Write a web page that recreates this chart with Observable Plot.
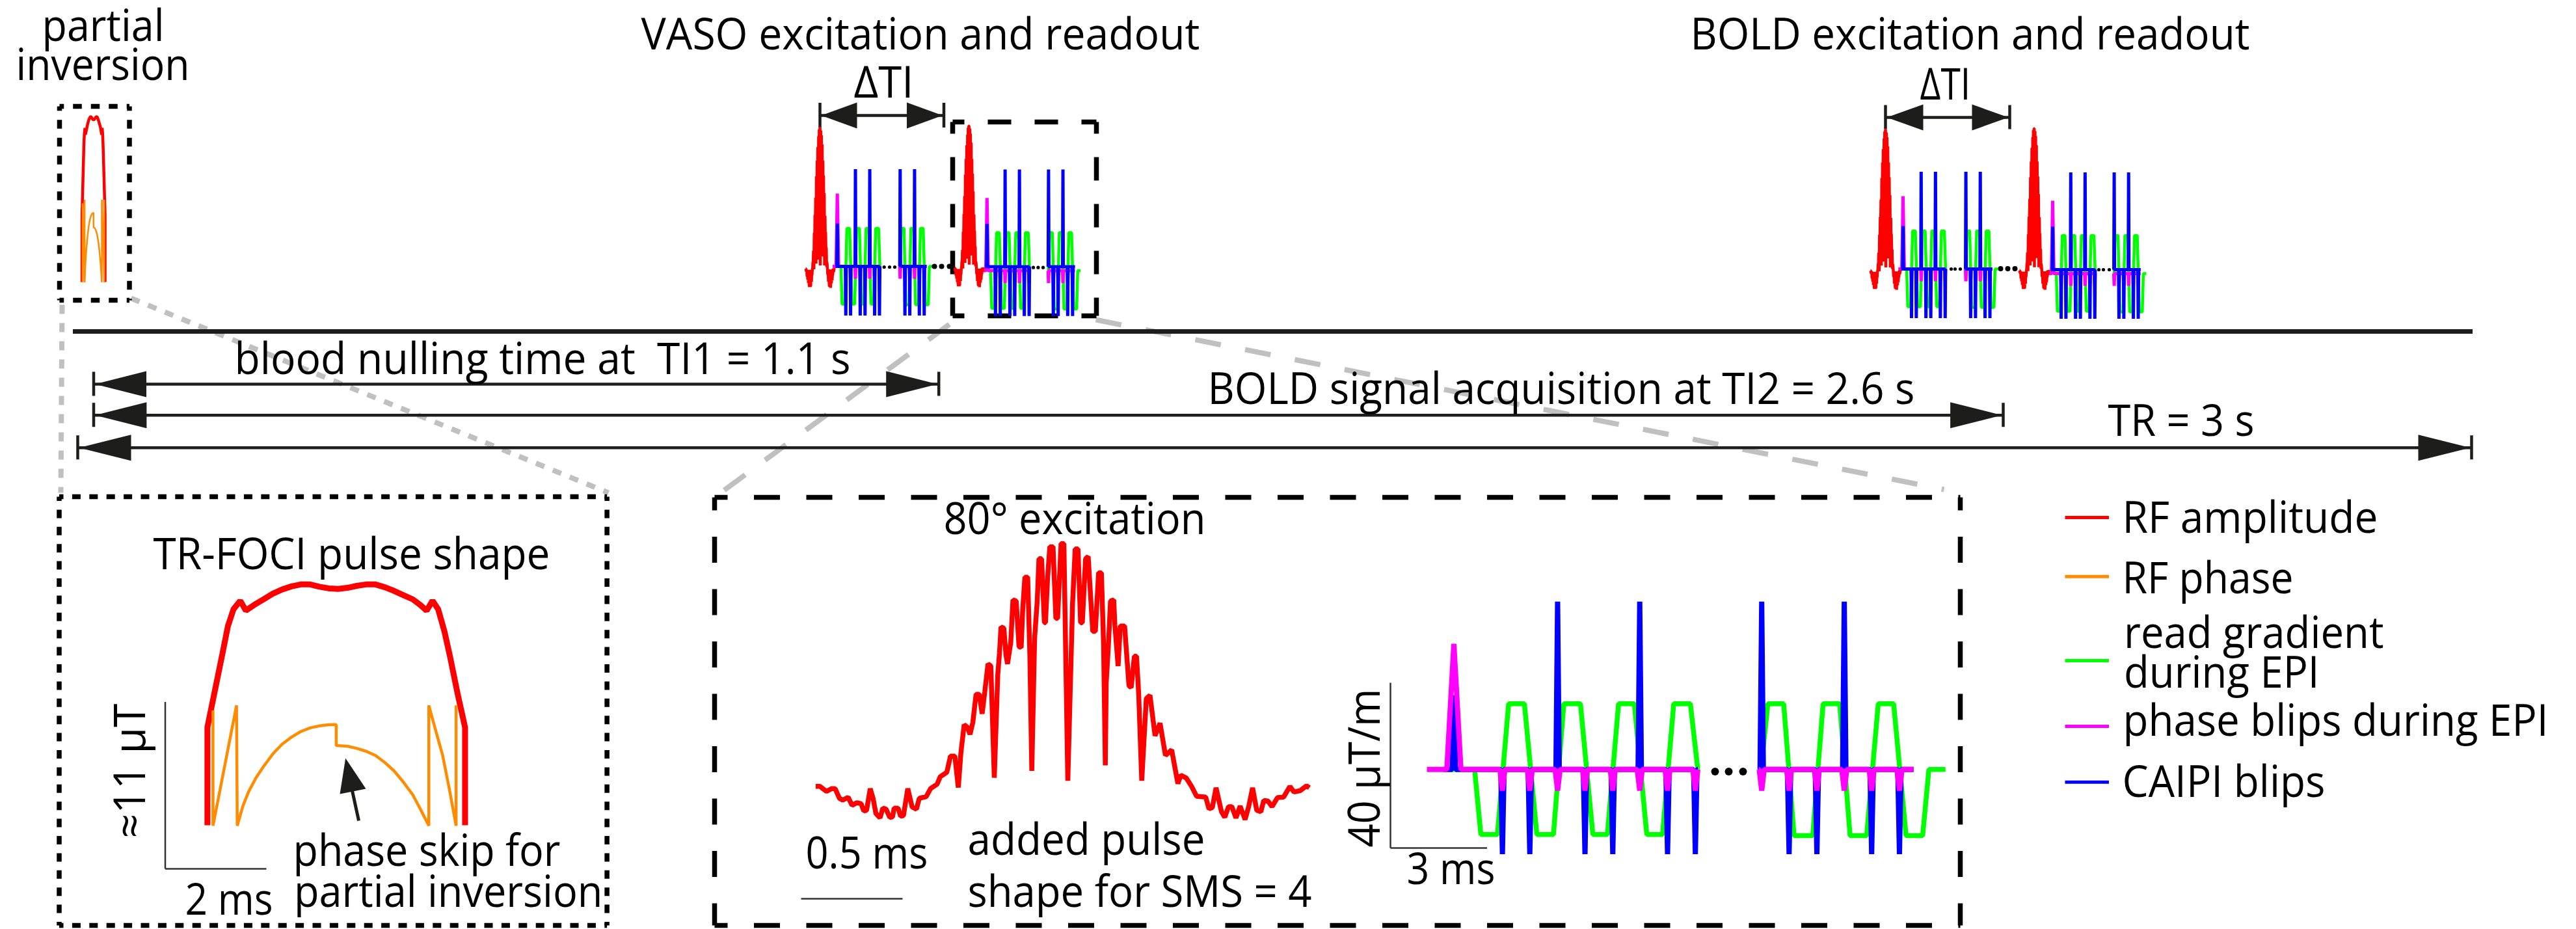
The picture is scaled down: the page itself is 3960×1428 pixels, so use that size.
<!DOCTYPE html>
<html><head><meta charset="utf-8">
<script src="https://cdn.jsdelivr.net/npm/d3@7"></script>
<script src="https://cdn.jsdelivr.net/npm/@observablehq/plot@0.6"></script>
<style>html,body{margin:0;padding:0;background:#fff}svg{display:block}</style>
</head><body><div id="chart"></div>
<script>
// ---- values (page-pixel frame unless noted) ----
const RED="#ff0000",ORANGE="#ff8c00",GREEN="#00ff00",MAGENTA="#ff00ff",BLUE="#0000ff",INK="#1d1d1b",GREY="#c0c0c0";

// TR-FOCI pulse, amplitude and phase (reading units)
const focAmpT=[450,450,470,490,505,520,538,553,575,600,625,650,675,700,725,750,775,800,825,850,875,900,925,950,975,1000,1020,1037,1053,1068,1085,1100,1120,1140,1140];
const focAmpY=[1198,850,720,590,490,430,400,435,415,395,375,360,349,342,342,350,356,358,354,347,342,342,352,365,380,395,415,435,400,430,510,600,730,850,1198];
const focPhT=[465,465,528,530,545,560,580,600,625,650,675,700,725,750,775,795,795,825,850,875,900,925,950,975,1000,1020,1043,1043,1060,1080,1098,1116,1116];
const focPhY=[790,1200,772,1200,1130,1080,1030,990,945,910,885,865,852,845,841,840,915,917,925,935,950,975,1005,1045,1090,1140,1200,772,855,950,1070,1200,772];

// 80 degree SMS excitation pulse, traced in four stretches (reading units of each stretch)
const rfLeftT=[100,120,150,175,190,210,225,250,268,290,310,322,335,352,365,378,397,410,425,442,455,462,480,492,505,525,545,565,578,610,630,660,675,705,722,742,758,770,785,800,812,825,840,855,868,880];
const rfLeftY=[535,535,558,545,545,590,598,585,622,610,615,648,645,545,590,660,680,635,640,678,675,635,635,672,670,545,630,640,590,582,545,525,490,470,395,395,540,380,250,262,295,240,110,110,200,100];
const rfMidT=[235,248,264,280,288,295,308,318,325,340,350,365,378,388,395,405,418,428,437,450,462,470,482,495,500,510,520,535,548,556,572,585,603,625,637,650,662,670,685,697,718,730,745,758,768,776];
const rfMidY=[600,610,1125,650,550,430,435,560,600,500,305,310,520,525,350,200,200,560,1093,480,310,115,115,410,410,200,60,60,390,390,45,45,1139,320,70,70,410,410,115,105,450,450,180,180,510,1068];
const rfRightT=[60,70,80,95,100,115,125,145,165,175,190,200,210,224,245,262];
const rfRightY=[690,520,310,305,420,610,425,425,700,710,565,565,740,1139,760,745];
const rfTailT=[1090,1102,1115,1130,1145,1152,1165,1178,1190,1212,1220,1228,1237,1250,1258,1267,1275,1285,1295,1307,1316,1325,1335,1345,1352,1362,1372,1385,1400,1415,1425,1440,1455,1462];
const rfTailY=[880,835,950,930,1050,1020,1030,1060,1095,1098,1140,1135,1065,1150,1170,1132,1132,1172,1130,1178,1130,1065,1145,1150,1110,1112,1132,1100,1098,1060,1080,1075,1058,1065];

// EPI readout (reading units: t along time, a above baseline)
const greenAT=[290,355,370,410,437,475,505,545,570,610,640,675,702,740,770,808,835,875,893];
const greenAA=[0,0,-297,-297,300,300,-297,-297,300,300,-297,-297,300,300,-297,-297,300,300,0];
const greenBT=[1045,1062,1100,1125,1170,1195,1235,1260,1300,1328,1365,1395,1435,1450,1490];
const greenBA=[0,300,300,-302,-302,300,300,-302,-302,300,300,-302,-302,0,0];
const caipiAT=[305,422,488,555,621,688,753,820,887];
const caipiAA=[338,-387,-387,766,-387,-387,766,-387,-387];
const caipiBT=[1047,1113,1180,1246,1312,1379];
const caipiBA=[766,-387,-387,766,-387,-387];
const phaseAT=[305,422,488,555,621,688,753,820,887];
const phaseAA=[573,-97,-97,-97,-97,-97,-97,-97,-97];
const phaseBT=[1047,1113,1180,1246,1312,1379];
const phaseBA=[-97,-97,-97,-97,-97,-97];

// placements of the small copies
const rfSlots=[[1238,1282,196,442],[1467,1511,193,441],[2875,2921,199,445],[3104,3149,197,445]];
const epiSlots=[[1286.7,409,0,14],[1516.8,409.6,6,12],[2925,413,0,14],[3155,414,6,12]];
const dotXs=[1358.7,1367,1375,1588,1595.4,1603,2999,3005,3013,3226,3233,3242,1436,1447,1459,3075,3086,3097,2636,2657,2679];
const dotYs=[410,410,410,410.7,410.7,410.7,413,413,413,414,414,414,409,409,409,412.5,412.5,412.5,1185.5,1185.5,1185.5];
const dotRs=[2.6,2.6,2.6,2.6,2.6,2.6,2.6,2.6,2.6,2.6,2.6,2.6,4,4,4,4,4,4,6,6,6];

// double arrows: y, left bar, right bar, half height of bar
const dimY=[177,180,590,637.7,687.7];
const dimL=[1260,2898,143.5,143.5,119];
const dimR=[1450.5,3089,1442.7,3079,3799];
const dimBar=[19,18.5,18.5,18.5,18.5];
const dimHead=[55,56,79,79.4,80];

// dashed frames: x1,y1,x2,y2,dash,gap
const frames=[[91,163,198.5,461,13.5,14],[1464,187,1685,485,36,36],[90.5,763,932.6,1422,13,13.4],[1098,764,3013,1422,40,40.5]];
// grey zoom guides
const guides=[[95,468,93,757],[201,458,935,757],[1459,498,1098,764],[1684,491,2988,752]];
// thin scale bars
const scaleBars=[[253.5,1078.6,253.5,1335],[253.5,1335,409,1335],[1231,1381,1387,1381],[2137,1049,2137,1303],[2137,1303,2285.5,1303]];

// legend
const legendNames=["RF amplitude","RF phase","read gradient during EPI","phase blips during EPI","CAIPI blips"];
const legendColors=[RED,ORANGE,GREEN,MAGENTA,BLUE];
const legendLineY=[795,885.7,1015,1116,1201.7];

// text: string, left x, baseline y, width
const textS=["partial","inversion","VASO excitation and readout","BOLD excitation and readout","ΔTI","ΔTI ","blood nulling time at  TI1 = 1.1 s","BOLD signal acquisition at TI2 = 2.6 s","TR = 3 s","TR-FOCI pulse shape","2 ms","phase skip for","partial inversion","80° excitation","0.5 ms","added pulse","shape for SMS = 4","3 ms","RF amplitude","RF phase","read gradient","during EPI","phase blips during EPI","CAIPI blips"];
const textX=[64,24,985,2598,1312,2951,360,1856,3240,235,284,450,451.5,1450,1238,1487,1487,2162,3262,3262,3264.5,3264.5,3263,3262];
const textY=[62,122,75,75,149,152.5,574,620,669.3,874.5,1405,1330,1393,820.5,1334,1313,1393,1358.6,818,911,995,1056,1130.6,1224];
const textW=[188,267,859,860,92,92,947,1087,225,610,135,411,474.5,403,188,365,529,136,393,263,399.5,300.5,654,312];
// rotated text
const rotS=["≈11 μT","40 μT/m"];
const rotX=[222,2120];
const rotY=[1288,1302];
const rotW=[207,244];

// big RF pulse on the page, joined from its four traced stretches
const rfX=[...rfLeftT.map(v=>1220+v/3),...rfMidT.map(v=>1440+v/3),...rfRightT.map(v=>1680+v/3),...rfTailT.map(v=>1080+v/1.568)];
const rfY=[...rfLeftY.map(v=>1030+v/3),...rfMidY.map(v=>820+v/3),...rfRightY.map(v=>820+v/3),...rfTailY.map(v=>750+v/2.313)];
const rfX0=d3.min(rfX),rfX1=d3.max(rfX),rfY0=d3.min(rfY),rfY1=d3.max(rfY);

// small helpers that lay the readings out on the page frame
const spikePath=(ts,as,half,t0,t1)=>{const o=[[t0,0]];ts.forEach((t,i)=>{o.push([t-half[i],0],[t,as[i]],[t+half[i],0]);});o.push([t1,0]);return o;};
const lin=(o={})=>({x:"x",y:"y",z:"id",strokeLinejoin:"bevel",strokeLinecap:"butt",...o});

function epiSeries(x0,y0,sx,sy,gOff,bOff,spikeHalf){
  const mapA=p=>({x:x0+(p[0]-305)*sx,y:y0-p[1]*sy});
  const mapB=p=>({x:x0+(p[0]-305)*sx+bOff,y:y0-p[1]*sy});
  const gMapA=p=>({x:x0+(p[0]-305)*sx,y:y0+gOff-p[1]*sy});
  const gMapB=p=>({x:x0+(p[0]-305)*sx+bOff,y:y0+gOff-p[1]*sy});
  const green=[[greenAT.map((t,i)=>[t,greenAA[i]]),gMapA],[greenBT.map((t,i)=>[t,greenBA[i]]),gMapB]];
  const blue=[[spikePath(caipiAT,caipiAA,caipiAT.map(()=>spikeHalf),280,893),mapA],[spikePath(caipiBT,caipiBA,caipiBT.map(()=>spikeHalf),1040,1413),mapB]];
  const mag=[[spikePath(phaseAT,phaseAA,phaseAT.map((_, i)=>i?6:17),240,893),gMapA],[spikePath(phaseBT,phaseBA,phaseBT.map(()=>6),1040,1413),gMapB]];
  const out=s=>s.flatMap(([a,f],k)=>a.map(p=>({...f(p),id:k})));
  return {green:out(green),blue:out(blue),mag:out(mag)};
}
const scaleTo=(xs,ys,xa,xb,ya,yb,x0,x1,y0,y1)=>xs.map((x,i)=>({x:x0+(x-xa)/(xb-xa)*(x1-x0),y:y0+(ys[i]-ya)/(yb-ya)*(y1-y0)}));

// ---- marks ----
const marks=[];
// grey guides first
guides.forEach((g,i)=>marks.push(Plot.line([{x:g[0],y:g[1]},{x:g[2],y:g[3]}],{x:"x",y:"y",stroke:GREY,strokeWidth:8,strokeDasharray:i<2?"14 14":"40 38",strokeLinecap:"butt"})));
// dashed frames
frames.forEach(f=>{const [a,b,c,d,ds,gp]=f;
  [[a,b,c,b],[c,b,c,d],[a,d,c,d],[a,b,a,d]].forEach(s=>marks.push(Plot.line([{x:s[0],y:s[1]},{x:s[2],y:s[3]}],{x:"x",y:"y",stroke:"#000",strokeWidth:7.5,strokeDasharray:`${ds} ${gp}`,strokeDashoffset:ds/2,strokeLinecap:"butt"})));
});
// timeline
marks.push(Plot.ruleY([509],{x1:112,x2:3801,stroke:INK,strokeWidth:7}));
// double arrows
dimY.forEach((y,i)=>{const l=dimL[i],r=dimR[i],b=dimBar[i],h=dimHead[i];
  marks.push(Plot.ruleY([y],{x1:l,x2:r,stroke:INK,strokeWidth:4.5}));
  marks.push(Plot.ruleX([l],{y1:y-b,y2:y+b,stroke:INK,strokeWidth:4.5}));
  marks.push(Plot.ruleX([r],{y1:y-b,y2:y+b,stroke:INK,strokeWidth:4.5}));
  marks.push(Plot.line([{x:l+2,y},{x:l+2+h,y:y-20},{x:l+2+h,y:y+20}],{x:"x",y:"y",fill:INK,stroke:"none",curve:"linear-closed"}));
  marks.push(Plot.line([{x:r-2,y},{x:r-2-h,y:y-20},{x:r-2-h,y:y+20}],{x:"x",y:"y",fill:INK,stroke:"none",curve:"linear-closed"}));
});
// scale bars
scaleBars.forEach(s=>marks.push(Plot.line([{x:s[0],y:s[1]},{x:s[2],y:s[3]}],{x:"x",y:"y",stroke:"#333",strokeWidth:2.5,strokeLinecap:"butt"})));
// phase-skip arrow
marks.push(Plot.line([{x:551,y:1261},{x:541,y:1215}],{x:"x",y:"y",stroke:INK,strokeWidth:5,strokeLinecap:"butt"}));
marks.push(Plot.line([{x:530.7,y:1165},{x:522,y:1220},{x:562,y:1212}],{x:"x",y:"y",fill:INK,stroke:"none",curve:"linear-closed"}));

// small TR-FOCI in the top dashed frame
const sFocX0=125.6,sFocX1=161,sFocY0=179,sFocY1=433;
marks.push(Plot.line(scaleTo(focAmpT,focAmpY,450,1140,342,1198,sFocX0,sFocX1,sFocY0,sFocY1),{x:"x",y:"y",stroke:RED,strokeWidth:4.5,strokeLinejoin:"bevel",strokeLinecap:"butt"}));
marks.push(Plot.line(scaleTo(focPhT,focPhY,450,1140,342,1198,sFocX0,sFocX1,sFocY0,sFocY1),{x:"x",y:"y",stroke:ORANGE,strokeWidth:2.5,strokeLinejoin:"bevel",strokeLinecap:"butt"}));
// large TR-FOCI
const bx=v=>60+v/1.742,by=v=>750+v/2.313;
marks.push(Plot.line(scaleTo(focAmpT,focAmpY,450,1140,342,1198,bx(450),bx(1140),by(342),by(1198)),{x:"x",y:"y",stroke:RED,strokeWidth:9,strokeLinejoin:"bevel",strokeLinecap:"butt"}));
marks.push(Plot.line(scaleTo(focPhT,focPhY,450,1140,342,1198,bx(450),bx(1140),by(342),by(1198)),{x:"x",y:"y",stroke:ORANGE,strokeWidth:4.5,strokeLinejoin:"bevel",strokeLinecap:"butt"}));

// small RF pulses and EPI readouts
epiSlots.forEach(([x,y,g,b])=>{const e=epiSeries(x,y,0.1113,0.1953,g,b,5);
  marks.push(Plot.line(e.green,lin({stroke:GREEN,strokeWidth:4.5})));
  marks.push(Plot.line(e.mag,lin({stroke:MAGENTA,strokeWidth:5})));
  marks.push(Plot.line(e.blue,lin({stroke:BLUE,strokeWidth:5})));
});
rfSlots.forEach(([x0,x1,y0,y1])=>marks.push(Plot.line(scaleTo(rfX,rfY,rfX0,rfX1,rfY0,rfY1,x0,x1,y0,y1),{x:"x",y:"y",stroke:RED,strokeWidth:4.5,strokeLinejoin:"bevel",strokeLinecap:"butt"})));
// large RF pulse
marks.push(Plot.line(rfX.map((x,i)=>({x,y:rfY[i]})),{x:"x",y:"y",stroke:RED,strokeWidth:7.5,strokeLinejoin:"bevel",strokeLinecap:"butt"}));
// large EPI
const big=epiSeries(2234.5,1182.2,1/1.568,1/2.97,0,0,4);
marks.push(Plot.line(big.green,lin({stroke:GREEN,strokeWidth:7.5})));
marks.push(Plot.line(big.blue,lin({stroke:BLUE,strokeWidth:8})));
marks.push(Plot.line(big.mag,lin({stroke:MAGENTA,strokeWidth:8})));
// dots
const dots=dotXs.map((x,i)=>({x,y:dotYs[i],r:dotRs[i]}));
marks.push(Plot.dot(dots,{x:"x",y:"y",r:"r",fill:"#000",stroke:"none"}));
// legend lines
legendNames.forEach((n,i)=>marks.push(Plot.ruleY([legendLineY[i]],{x1:3174.5,x2:3242,stroke:legendColors[i],strokeWidth:5})));
// text
const fontFamily="'Open Sans','Noto Sans',sans-serif";
const texts=textS.map((s,i)=>({s,x:textX[i],y:textY[i]}));
marks.push(Plot.text(texts,{x:"x",y:"y",text:"s",textAnchor:"start",lineAnchor:"bottom",fontSize:67,fontFamily,fill:"#000"}));
const rots=rotS.map((s,i)=>({s,x:rotX[i],y:rotY[i]}));
marks.push(Plot.text(rots,{x:"x",y:"y",text:"s",rotate:-90,textAnchor:"start",lineAnchor:"bottom",fontSize:67,fontFamily,fill:"#000"}));

const svg=Plot.plot({width:3960,height:1428,margin:0,
  x:{domain:[0,3960],axis:null},y:{domain:[1428,0],axis:null},r:{type:"identity"},
  style:{background:"#fff"},marks});
const widths=new Map([...textS.map((s,i)=>[s,textW[i]]),...rotS.map((s,i)=>[s,rotW[i]])]);
svg.querySelectorAll("text").forEach(t=>{const w=widths.get(t.textContent);if(w){t.setAttribute("textLength",w);t.setAttribute("lengthAdjust","spacingAndGlyphs");}});
document.getElementById("chart").appendChild(svg);
</script></body></html>
